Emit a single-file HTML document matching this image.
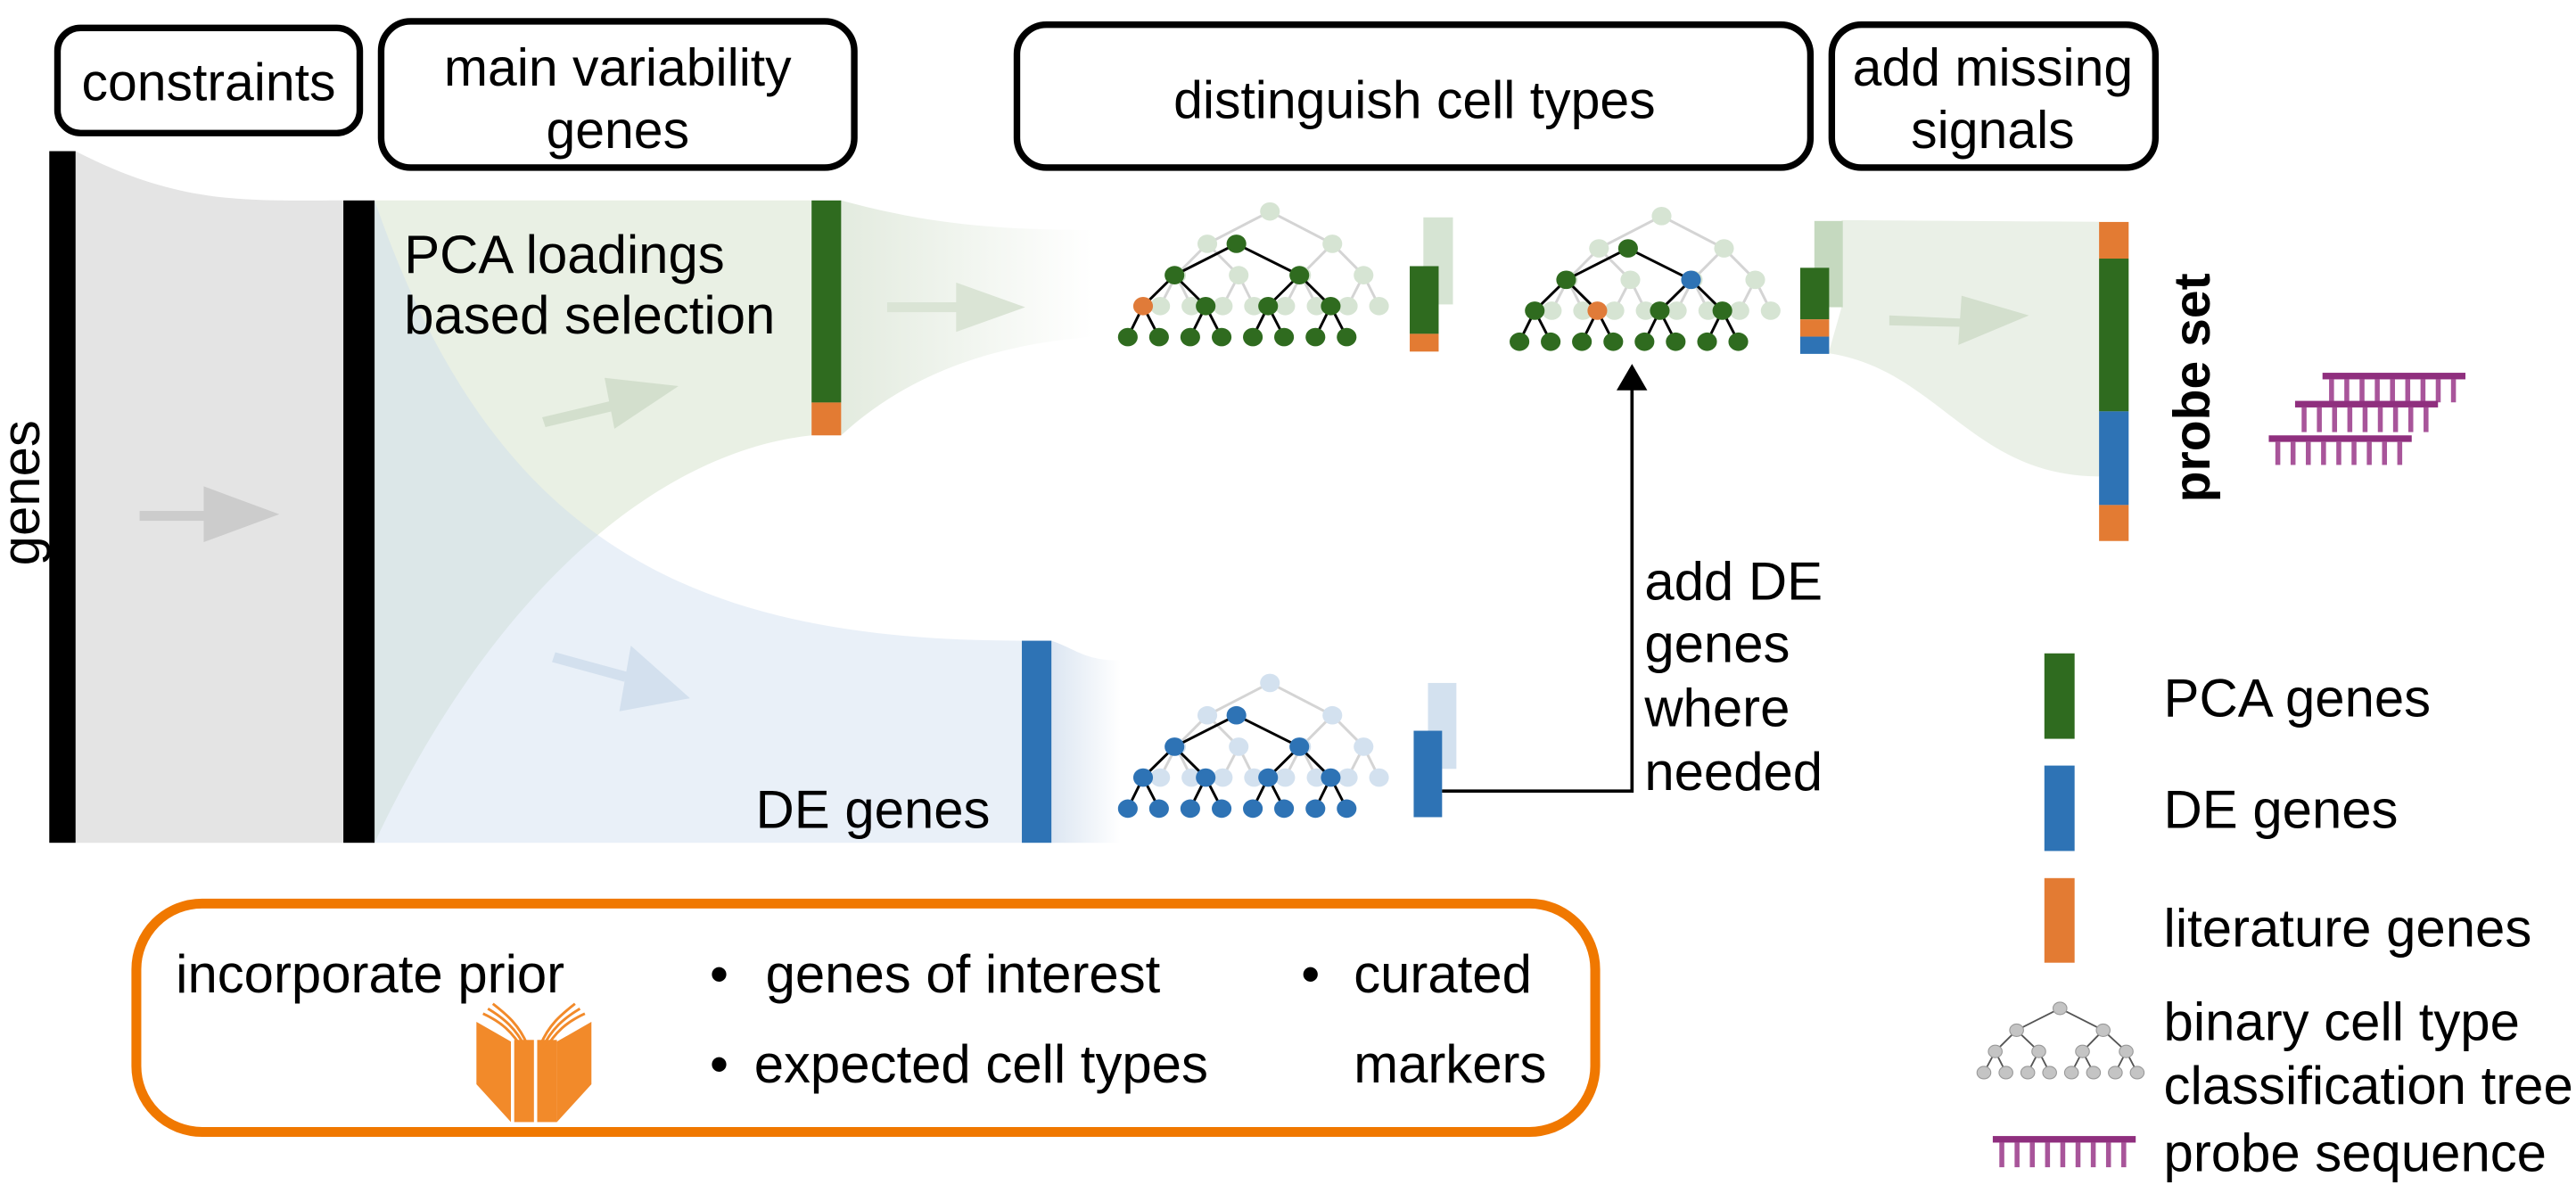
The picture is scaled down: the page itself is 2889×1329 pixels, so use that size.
<!DOCTYPE html>
<html><head><meta charset="utf-8"><style>
html,body{margin:0;padding:0;background:#fff;}
svg{display:block;}
text{font-family:"Liberation Sans",sans-serif;fill:#000;}
</style></head><body>
<svg id="s" width="2889" height="1329" viewBox="0 0 1568 721.3" xmlns="http://www.w3.org/2000/svg">
<defs>
<linearGradient id="gfade" x1="0" x2="1" y1="0" y2="0"><stop offset="0" stop-color="#e3ebdf"/><stop offset="1" stop-color="#e3ebdf" stop-opacity="0"/></linearGradient>
<linearGradient id="bfade" x1="0" x2="1" y1="0" y2="0"><stop offset="0" stop-color="#dce6f2"/><stop offset="1" stop-color="#dce6f2" stop-opacity="0"/></linearGradient>
</defs>
<path d="M46,92 C110,125 150,122 209,122 L209,513 L46,513 Z" fill="#e4e4e4"/>
<path d="M228,122 L494,122 L494,265 C400,275 300,360 228,513 Z" fill="#d7e4cd" fill-opacity="0.55"/>
<path d="M228,122 C300,330 420,390 622,390 L622,513 L228,513 Z" fill="#c8daee" fill-opacity="0.4"/>
<path d="M512,122 C560,135 600,140 665,140 L665,205 C600,210 550,230 512,265 Z" fill="url(#gfade)"/>
<path d="M640,390 C655,395 660,402 682,402 L682,513 L640,513 Z" fill="url(#bfade)"/>
<path d="M1121,134 L1278,135 L1278,290 C1200,290 1180,225 1113,215 L1121,187 Z" fill="#eaf0e7"/>
<rect x="85" y="311" width="42" height="6" fill="#cccccc"/>
<polygon points="124,296 170,313 124,330" fill="#cccccc"/>
<polygon points="330,254 372,244 374,250 332,260" fill="#d3dfcd"/>
<polygon points="368,230 413,235 374,261" fill="#d3dfcd"/>
<polygon points="338,397 382,409 380,415 336,403" fill="#d3e0ee"/>
<polygon points="384,393 420,425 377,433" fill="#d3e0ee"/>
<rect x="540" y="184" width="44" height="6" fill="#dae4d5"/>
<polygon points="582,172 624,187 582,202" fill="#dae4d5"/>
<polygon points="1150,192 1196,194 1196,199 1150,198" fill="#d3dfcd"/>
<polygon points="1194,180 1235,192 1192,210" fill="#d3dfcd"/>
<rect x="30" y="92" width="16" height="421" fill="#000"/>
<rect x="209" y="122" width="19" height="391" fill="#000"/>
<rect x="494" y="122" width="18" height="123" fill="#2f6b1f"/>
<rect x="494" y="245" width="18" height="20" fill="#e37b33"/>
<rect x="622" y="390" width="18" height="123" fill="#2e73b5"/>
<rect x="866.4" y="132.3" width="18" height="53" fill="#d6e4d3"/>
<rect x="858.1" y="162" width="17.6" height="41.2" fill="#2f6b1f"/>
<rect x="858.1" y="203.2" width="17.6" height="10.8" fill="#e37b33"/>
<rect x="1104.4" y="134.5" width="17.3" height="52.5" fill="#c5d9bf"/>
<rect x="1095.8" y="163" width="17.6" height="31.4" fill="#2f6b1f"/>
<rect x="1095.8" y="194.4" width="17.6" height="10.5" fill="#e37b33"/>
<rect x="1095.8" y="204.9" width="17.6" height="10.5" fill="#2e73b5"/>
<rect x="869.2" y="415.7" width="17.3" height="52.3" fill="#d3e1ef"/>
<rect x="860.5" y="444.8" width="17.3" height="52.6" fill="#2e73b5"/>
<rect x="1277.7" y="135.1" width="18" height="22.3" fill="#e37b33"/>
<rect x="1277.7" y="157.4" width="18" height="93" fill="#2f6b1f"/>
<rect x="1277.7" y="250.4" width="18" height="57" fill="#2e73b5"/>
<rect x="1277.7" y="307.4" width="18" height="21.9" fill="#e37b33"/>
<polyline points="877.8,481.5 993.4,481.5 993.4,236" fill="none" stroke="#000" stroke-width="2"/>
<polygon points="984,237.6 1002.7,237.6 993.4,221.5" fill="#000"/>
<g id="trees"></g>
<g id="probes"></g>
<g fill="#fff" stroke="#000" stroke-width="4">
<rect x="35" y="17" width="184" height="64" rx="14"/>
<rect x="232" y="13" width="288" height="89" rx="18"/>
<rect x="619" y="15" width="483" height="87" rx="18"/>
<rect x="1115" y="15" width="197" height="87" rx="18"/>
</g>
<g font-size="32" text-anchor="middle">
<text x="127" y="61">constraints</text>
<text x="376" y="52">main variability</text>
<text x="376" y="90">genes</text>
<text x="861" y="72">distinguish cell types</text>
<text x="1213" y="52">add missing</text>
<text x="1213" y="90">signals</text>
</g>
<g font-size="32.5">
<text transform="translate(24,300) rotate(-90)" text-anchor="middle">genes</text>
<text x="246" y="166">PCA loadings</text>
<text x="246" y="203">based selection</text>
<text x="460" y="504">DE genes</text>
<text x="1001" y="365">add DE</text>
<text x="1001" y="403">genes</text>
<text x="1001" y="442">where</text>
<text x="1001" y="481">needed</text>
<text x="1345" y="236" transform="rotate(-90 1345 236)" text-anchor="middle" font-weight="bold" font-size="31">probe set</text>
<text x="1317" y="436">PCA genes</text>
<text x="1317" y="504">DE genes</text>
<text x="1317" y="576">literature genes</text>
<text x="1317" y="633">binary cell type</text>
<text x="1317" y="672">classification tree</text>
<text x="1317" y="713">probe sequence</text>
</g>
<rect x="1244.4" y="397.7" width="18.4" height="52" fill="#2f6b1f"/>
<rect x="1244.4" y="466" width="18.4" height="52" fill="#2e73b5"/>
<rect x="1244.4" y="534.5" width="18.4" height="51.5" fill="#e37b33"/>
<rect x="83" y="550" width="888" height="139" rx="40" fill="none" stroke="#f07800" stroke-width="6"/>
<g font-size="32.5">
<text x="107" y="604">incorporate prior</text>
<text x="432" y="604">•</text><text x="466" y="604">genes of interest</text>
<text x="432" y="659">•</text><text x="459" y="659">expected cell types</text>
<text x="792" y="604">•</text><text x="824" y="604">curated</text>
<text x="824" y="659">markers</text>
</g>
<g fill="#f28a2a">
<polygon points="290,622 311,634 311,683 290,660"/>
<polygon points="339,634 360,622 360,660 339,683"/>
<rect x="313" y="633" width="12" height="50"/>
<rect x="327" y="633" width="12" height="50"/>
<g fill="none" stroke="#f28a2a" stroke-width="1.6">
<path d="M294,617 C305,622 312,628 319,640"/><path d="M297,614 C307,620 314,626 320,638"/><path d="M300,611 C309,618 316,624 321,636"/>
<path d="M356,617 C345,622 338,628 331,640"/><path d="M353,614 C343,620 336,626 330,638"/><path d="M350,611 C341,618 334,624 329,636"/>
</g>
</g>
</svg>
<script>
var NS="http://www.w3.org/2000/svg";
function el(p,t,a){var e=document.createElementNS(NS,t);for(var k in a)e.setAttribute(k,a[k]);p.appendChild(e);return e;}
var G=document.getElementById('trees');
function tree(ox,oy,fade,dark,spec){
 var F=[[773],[734.9,811],[715.9,754,792,830],[706.2,725.2,744.3,763.3,782.3,801.4,820.4,839.4]];
 var FY=[128.7,148.4,167.5,186.3];
 var D=[[752.6],[714.9,790.9],[695.8,733.9,771.9,810],[686.5,705.5,724.5,743.6,762.6,781.6,800.7,819.7]];
 var DY=[148.4,167.5,186.3,205.2];
 function draw(L,Y,col,ec,sp){
  for(var l=1;l<4;l++)for(var i=0;i<L[l].length;i++){var p=Math.floor(i/2);
   el(G,'line',{x1:L[l-1][p]+ox,y1:Y[l-1]+oy,x2:L[l][i]+ox,y2:Y[l]+oy,stroke:ec,'stroke-width':1.6});}
  for(var l=0;l<4;l++)for(var i=0;i<L[l].length;i++){var c=col;if(sp&&sp[l+','+i])c=sp[l+','+i];
   el(G,'ellipse',{cx:L[l][i]+ox,cy:Y[l]+oy,rx:6,ry:5.6,fill:c});}
 }
 draw(F,FY,fade,'#d4d4d4',null);
 draw(D,DY,dark,'#000',spec);
}
tree(0,0,'#d6e4d3','#2f6b1f',{'2,0':'#e07b39'});
tree(238.4,2.8,'#d6e4d3','#2f6b1f',{'1,1':'#2e73b5','2,1':'#e07b39'});
tree(0,287,'#d3e1ef','#2e73b5',{});
(function(){
 var L=[[1253.9],[1227.5,1280.2],[1214.5,1241,1267.6,1294.2],[1207.6,1221,1234.3,1247.6,1260.9,1274.3,1287.6,1300.9]];
 var Y=[613.8,627.1,640,652.9];
 for(var l=1;l<4;l++)for(var i=0;i<L[l].length;i++){var p=Math.floor(i/2);
  el(G,'line',{x1:L[l-1][p],y1:Y[l-1],x2:L[l][i],y2:Y[l],stroke:'#555','stroke-width':1});}
 for(var l=0;l<4;l++)for(var i=0;i<L[l].length;i++)el(G,'ellipse',{cx:L[l][i],cy:Y[l],rx:4.2,ry:3.8,fill:'#c4c4c4',stroke:'#999','stroke-width':0.6});
})();
var P=document.getElementById('probes');
function probe(x,y,w,th){
 el(P,'rect',{x:x,y:y,width:w,height:4,fill:'#8f2f7e'});
 for(var i=0;i<9;i++){var tx=x+4+i*(w-10)/8.3;el(P,'rect',{x:tx,y:y+4,width:3,height:th,fill:'#a8559a'});}
}
probe(1413.7,226.9,87,14);
probe(1397,244,87,15);
probe(1381,265,87,14);
probe(1213,691.5,87,15);
</script>
</body></html>
